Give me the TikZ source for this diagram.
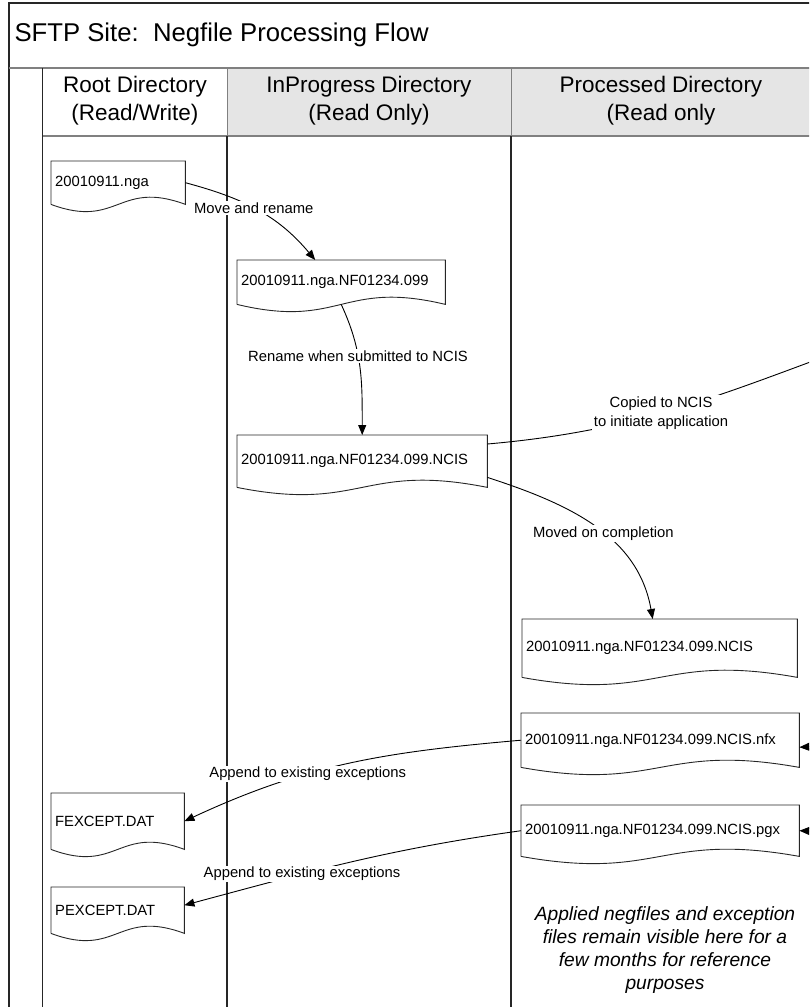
\documentclass[tikz,border=0pt]{standalone}
\usepackage{fontspec}
\setmainfont{Liberation Sans}
\usetikzlibrary{positioning,calc,arrows.meta}

% outline of a file node: straight top and sides, wavy bottom
\newcommand{\docoutline}[1]{%
  \draw[fileline] (#1.south west) -- (#1.north west) -- (#1.north east) -- (#1.south east)
    .. controls ($(#1.south)+(0,25)$) and ($(#1.south)+(0,-25)$) .. (#1.south west);}

\begin{document}
\begin{tikzpicture}[x=1pt, y=1pt,
    lane/.style={draw=black!85, line width=1.3pt},
    sep/.style={draw=black!50, line width=2pt},
    hdr/.style={align=center, font=\fontsize{22.5}{28}\selectfont},
    negfile/.style={anchor=north west, inner xsep=4pt, inner ysep=0pt,
        align=left, font=\fontsize{14.8}{17}\selectfont},
    fileline/.style={draw=black!85, line width=0.9pt},
    flow/.style={black, line width=0.9pt, -{Triangle[length=10pt,width=8pt]}},
    lbl/.style={fill=white, inner sep=1.5pt, align=center,
        font=\fontsize{14.8}{19}\selectfont}]

  \useasboundingbox (0,0) rectangle (809,-1007);
  \clip (0,0) rectangle (809,-1007);

  %frame and title
  \draw[lane] (9,-1015) -- (9,-3) -- (820,-3);
  \node[anchor=west, inner sep=0pt,
      font=\fontsize{25.7}{30}\selectfont] (title) at (14.3,-35)
      {SFTP Site:\ \ Negfile Processing Flow};

  %header row
  \fill[black!10] (227,-68) rectangle (820,-136);
  \draw[sep] (9,-68) -- (820,-68);
  \draw[sep] (42.7,-136) -- (820,-136);
  \draw[draw=black!50, line width=1pt] (227,-68) -- (227,-136) (511,-68) -- (511,-136);

  \node[hdr] (rootdir) at (134.9,-101) {Root Directory\\(Read/Write)};
  \node[hdr] (progdir) at (369,-101) {InProgress Directory\\(Read Only)};
  \node[hdr] (procdir) at (661,-101) {Processed Directory\\(Read only};

  %lanes
  \draw[lane] (42.7,-68) -- (42.7,-1015);
  \draw[lane] (227,-136) -- (227,-1015);
  \draw[lane] (511,-136) -- (511,-1015);
  \draw[lane] (811,-68) -- (811,-1015);

  %files
  \node[negfile, text width=126pt, minimum height=43pt] (nga) at (51,-161) {20010911.nga};
  \node[negfile, text width=200pt, minimum height=44pt] (nf) at (237,-260) {20010911.nga.NF01234.099};
  \node[negfile, text width=242pt, minimum height=52pt] (ncis) at (237,-435) {20010911.nga.NF01234.099.NCIS};
  \node[negfile, text width=267pt, minimum height=58pt] (done) at (522,-619) {20010911.nga.NF01234.099.NCIS};
  \node[negfile, text width=270pt, minimum height=54pt] (nfx) at (521,-713) {20010911.nga.NF01234.099.NCIS.nfx};
  \node[negfile, text width=270pt, minimum height=51pt] (pgx) at (521,-805) {20010911.nga.NF01234.099.NCIS.pgx};
  \node[negfile, text width=125pt, minimum height=56pt] (fexc) at (51,-793) {FEXCEPT.DAT};
  \node[negfile, text width=125pt, minimum height=46pt] (pexc) at (51,-887) {PEXCEPT.DAT};

  \docoutline{nga}
  \docoutline{nf}
  \docoutline{ncis}
  \docoutline{done}
  \docoutline{nfx}
  \docoutline{pgx}
  \docoutline{fexc}
  \docoutline{pexc}

  %ends outside the picture (NCIS side)
  \coordinate (ncisapp) at (870,-340);
  \coordinate (nfxsrc) at (850,-745);
  \coordinate (pgxsrc) at (850,-832);

  \path[flow]
      (nga.east) edge[out=-15, in=130] node[lbl, pos=0.47] {Move and rename} ([xshift=-26pt]nf.north)
      (nf.south) edge[out=-65, in=90] node[lbl, pos=0.4] {Rename when submitted to NCIS} (ncis.north)
      ([yshift=-9pt]ncis.north east) edge[out=5, in=200] node[lbl, pos=0.44] {Copied to NCIS\\to initiate application} (ncisapp)
      ([yshift=10pt]ncis.south east) edge[out=-18, in=100] node[lbl, pos=0.55] {Moved on completion} ([xshift=-7pt]done.north)

      (nfxsrc) edge ([yshift=-7pt]nfx.east)
      (pgxsrc) edge (pgx.east)

      (nfx.west) edge[out=185, in=25] node[lbl, pos=0.63] {Append to existing exceptions} (fexc.east)
      (pgx.west) edge[out=188, in=15] node[lbl, pos=0.66] {Append to existing exceptions} ([yshift=5pt]pexc.east)
      ;

  %note
  \node[align=center, font=\fontsize{19.2}{23}\selectfont\itshape] (note) at (665,-950)
      {Applied negfiles and exception\\files remain visible here for a\\few months for reference\\purposes};

\end{tikzpicture}
\end{document}
